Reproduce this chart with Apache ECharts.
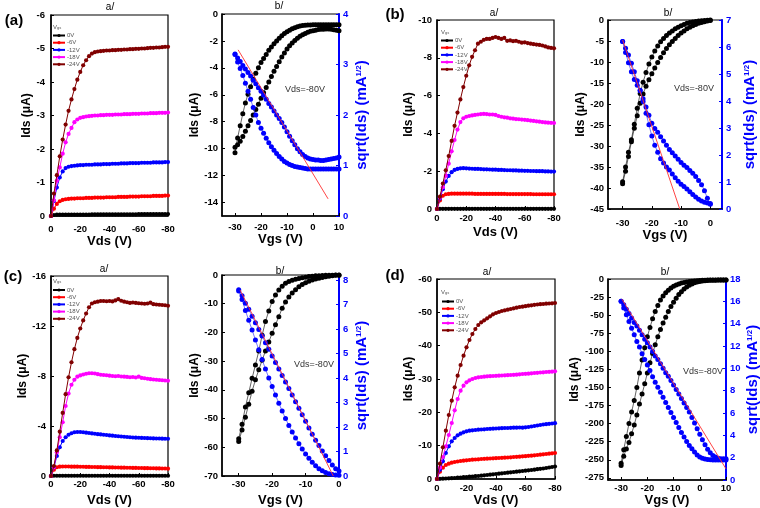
<!DOCTYPE html>
<html><head><meta charset="utf-8">
<script src="https://cdn.jsdelivr.net/npm/echarts@6/dist/echarts.min.js"></script>
<style>html,body{margin:0;padding:0;background:#fff}#c{width:760px;height:508px}</style>
</head><body><div id="c"></div>
<script>
// ---------- x values ----------
const vds = [0,-2,-4,-6,-8,-10,-12,-14,-16,-18,
  -20,-22,-24,-26,-28,-30,-32,-34,-36,-38,
  -40,-42,-44,-46,-48,-50,-52,-54,-56,-58,
  -60,-62,-64,-66,-68,-70,-72,-74,-76,-78,-80];
const vgsTo10 = [-30,-29,-28,-27,-26,-25,-24,-23,-22,-21,
  -20,-19,-18,-17,-16,-15,-14,-13,-12,-11,
  -10,-9,-8,-7,-6,-5,-4,-3,-2,-1,
  0,1,2,3,4,5,6,7,8,9,10];
const vgsTo0 = [-30,-29,-28,-27,-26,-25,-24,-23,-22,-21,
  -20,-19,-18,-17,-16,-15,-14,-13,-12,-11,
  -10,-9,-8,-7,-6,-5,-4,-3,-2,-1,0];
const vgsNames = ['0V','-6V','-12V','-18V','-24V'];

// ---------- (a) output ----------
const a_0V = [0,-0.03,-0.04,-0.04,-0.04,-0.04,-0.04,-0.04,-0.04,-0.04,
  -0.04,-0.04,-0.04,-0.04,-0.05,-0.05,-0.05,-0.05,-0.05,-0.05,
  -0.05,-0.05,-0.05,-0.05,-0.05,-0.05,-0.05,-0.05,-0.05,-0.05,
  -0.06,-0.06,-0.06,-0.06,-0.06,-0.06,-0.06,-0.06,-0.06,-0.06,-0.06];
const a_6V = [0,-0.22,-0.36,-0.44,-0.48,-0.50,-0.51,-0.52,-0.52,-0.53,
  -0.53,-0.53,-0.54,-0.54,-0.54,-0.55,-0.55,-0.55,-0.55,-0.56,
  -0.56,-0.56,-0.56,-0.57,-0.57,-0.57,-0.57,-0.58,-0.58,-0.58,
  -0.58,-0.59,-0.59,-0.59,-0.59,-0.60,-0.60,-0.60,-0.60,-0.61,-0.61];
const a_12V = [0,-0.45,-0.85,-1.15,-1.33,-1.43,-1.47,-1.49,-1.50,-1.51,
  -1.52,-1.52,-1.53,-1.53,-1.53,-1.54,-1.54,-1.54,-1.55,-1.55,
  -1.55,-1.56,-1.56,-1.56,-1.57,-1.57,-1.57,-1.58,-1.58,-1.58,
  -1.58,-1.59,-1.59,-1.59,-1.59,-1.60,-1.60,-1.60,-1.60,-1.61,-1.61];
const a_18V = [0,-0.47,-1.05,-1.45,-1.86,-2.20,-2.45,-2.63,-2.80,-2.88,
  -2.93,-2.95,-2.97,-2.98,-2.99,-3.00,-3.00,-3.01,-3.01,-3.02,
  -3.02,-3.02,-3.03,-3.03,-3.03,-3.04,-3.04,-3.04,-3.05,-3.05,
  -3.05,-3.06,-3.06,-3.06,-3.07,-3.07,-3.07,-3.08,-3.08,-3.08,-3.09];
const a_24V = [0,-0.67,-1.22,-1.78,-2.28,-2.73,-3.14,-3.48,-3.79,-4.07,
  -4.30,-4.50,-4.65,-4.77,-4.85,-4.89,-4.91,-4.92,-4.93,-4.94,
  -4.94,-4.95,-4.95,-4.96,-4.96,-4.97,-4.97,-4.98,-4.98,-4.99,
  -4.99,-5.00,-5.00,-5.01,-5.02,-5.02,-5.03,-5.03,-5.04,-5.05,-5.05];
// ---------- (a) transfer ----------
const a_idsF = [-10.3,-9.2,-8.3,-7.4,-6.6,-5.95,-5.4,-4.85,-4.4,-4.0,
  -3.6,-3.3,-3.0,-2.7,-2.45,-2.2,-2.0,-1.8,-1.62,-1.45,
  -1.32,-1.2,-1.1,-1.02,-0.95,-0.9,-0.86,-0.84,-0.82,-0.81,
  -0.8,-0.8,-0.8,-0.8,-0.8,-0.8,-0.8,-0.8,-0.8,-0.8,-0.8];
const a_idsR = [-9.9,-9.7,-9.45,-9.1,-8.7,-8.3,-7.9,-7.5,-7.1,-6.7,
  -6.25,-5.85,-5.45,-5.05,-4.65,-4.25,-3.9,-3.55,-3.2,-2.9,
  -2.6,-2.35,-2.15,-1.97,-1.8,-1.66,-1.54,-1.44,-1.36,-1.29,
  -1.24,-1.2,-1.16,-1.14,-1.13,-1.12,-1.12,-1.14,-1.17,-1.21,-1.25];
const a_sqrtF = [3.21,3.05,2.92,2.78,2.63,2.47,2.31,2.15,2.0,1.85,
  1.74,1.64,1.54,1.45,1.37,1.3,1.24,1.18,1.13,1.08,
  1.05,1.02,1.0,0.98,0.97,0.96,0.95,0.94,0.93,0.93,
  0.93,0.93,0.93,0.93,0.93,0.93,0.93,0.93,0.93,0.93,0.93];
const a_sqrtR = [3.2,3.13,3.06,2.98,2.91,2.84,2.77,2.69,2.62,2.54,
  2.47,2.39,2.31,2.23,2.16,2.08,2.0,1.93,1.85,1.76,
  1.67,1.58,1.49,1.41,1.33,1.27,1.22,1.18,1.15,1.13,
  1.12,1.11,1.11,1.1,1.1,1.11,1.12,1.13,1.14,1.15,1.17];
const a_fitX = [-28.8, 5.8];
const a_fitY = [3.29, 0.34];

// ---------- (b) output ----------
const b_0V = [0,-0.01,-0.01,-0.01,-0.01,-0.01,-0.01,-0.01,-0.01,-0.01,
  -0.01,-0.01,-0.01,-0.01,-0.01,-0.01,-0.01,-0.01,-0.01,-0.01,
  -0.01,-0.01,-0.01,-0.01,-0.01,-0.01,-0.01,-0.01,-0.01,-0.01,
  -0.01,-0.01,-0.01,-0.01,-0.01,-0.01,-0.01,-0.01,-0.01,-0.01,-0.01];
const b_6V = [0,-0.45,-0.70,-0.78,-0.80,-0.81,-0.81,-0.81,-0.81,-0.81,
  -0.81,-0.81,-0.81,-0.80,-0.80,-0.80,-0.80,-0.80,-0.80,-0.80,
  -0.80,-0.80,-0.80,-0.80,-0.79,-0.79,-0.79,-0.79,-0.79,-0.79,
  -0.79,-0.79,-0.79,-0.78,-0.78,-0.78,-0.78,-0.78,-0.78,-0.78,-0.78];
const b_12V = [0,-0.55,-1.05,-1.45,-1.75,-1.95,-2.07,-2.12,-2.15,-2.16,
  -2.15,-2.14,-2.13,-2.12,-2.12,-2.11,-2.10,-2.10,-2.09,-2.08,
  -2.08,-2.07,-2.07,-2.06,-2.05,-2.05,-2.04,-2.04,-2.03,-2.03,
  -2.02,-2.02,-2.01,-2.01,-2.00,-2.00,-2.00,-1.99,-1.99,-1.98,-1.98];
const b_18V = [0,-0.60,-1.15,-1.75,-2.40,-3.05,-3.65,-4.20,-4.60,-4.80,
  -4.88,-4.92,-4.95,-4.98,-5.00,-5.02,-5.03,-5.02,-5.00,-5.00,
  -4.98,-4.92,-4.88,-4.85,-4.83,-4.80,-4.78,-4.76,-4.75,-4.73,
  -4.72,-4.70,-4.68,-4.66,-4.64,-4.62,-4.60,-4.58,-4.57,-4.56,-4.55];
const b_24V = [0,-0.65,-1.35,-2.05,-2.80,-3.60,-4.40,-5.10,-5.80,-6.45,
  -7.05,-7.60,-8.05,-8.40,-8.75,-8.85,-8.95,-9.00,-9.00,-9.05,
  -9.10,-9.05,-9.00,-9.05,-8.90,-8.92,-8.88,-8.90,-8.85,-8.80,
  -8.82,-8.78,-8.75,-8.72,-8.70,-8.68,-8.65,-8.60,-8.55,-8.52,-8.50];
// ---------- (b) transfer ----------
const b_idsF = [-38.5,-35.0,-31.5,-28.5,-24.8,-21.0,-17.5,-14.8,-12.5,-10.5,
  -8.8,-7.4,-6.2,-5.2,-4.4,-3.7,-3.1,-2.6,-2.1,-1.7,
  -1.35,-1.05,-0.8,-0.6,-0.45,-0.33,-0.23,-0.15,-0.1,-0.05,-0.02];
const b_idsR = [-39.0,-36.0,-32.5,-29.0,-25.8,-22.8,-19.8,-17.6,-15.8,-14.2,
  -12.8,-11.4,-10.1,-8.9,-7.8,-6.8,-5.9,-5.1,-4.4,-3.7,
  -3.1,-2.6,-2.1,-1.7,-1.35,-1.05,-0.8,-0.58,-0.4,-0.25,-0.12];
const b_sqrtF = [6.2,5.95,5.7,5.4,5.08,4.75,4.4,3.98,3.55,3.12,
  2.7,2.36,2.1,1.86,1.7,1.56,1.44,1.3,1.16,1.03,
  0.92,0.83,0.74,0.64,0.54,0.44,0.36,0.3,0.25,0.22,0.2];
const b_sqrtR = [6.2,5.8,5.42,5.08,4.8,4.58,4.38,4.08,3.78,3.47,
  3.18,2.98,2.84,2.68,2.52,2.36,2.2,2.08,1.96,1.84,
  1.72,1.62,1.54,1.43,1.32,1.2,1.06,0.9,0.68,0.4,0.18];
const b_fitX = [-30, -10.45];
const b_fitY = [6.26, 0];

// ---------- (c) output ----------
const c_0V = [0,-0.02,-0.02,-0.02,-0.02,-0.02,-0.02,-0.02,-0.02,-0.02,
  -0.02,-0.02,-0.02,-0.02,-0.02,-0.02,-0.02,-0.02,-0.02,-0.02,
  -0.02,-0.02,-0.02,-0.02,-0.02,-0.02,-0.02,-0.02,-0.02,-0.02,
  -0.02,-0.02,-0.02,-0.02,-0.02,-0.02,-0.02,-0.02,-0.02,-0.02,-0.02];
const c_6V = [0,-0.50,-0.70,-0.75,-0.76,-0.76,-0.76,-0.75,-0.75,-0.75,
  -0.74,-0.74,-0.73,-0.73,-0.72,-0.72,-0.71,-0.71,-0.70,-0.70,
  -0.69,-0.69,-0.68,-0.68,-0.67,-0.67,-0.66,-0.66,-0.65,-0.65,
  -0.64,-0.64,-0.63,-0.63,-0.62,-0.62,-0.61,-0.61,-0.60,-0.60,-0.59];
const c_12V = [0,-0.70,-1.60,-2.30,-2.80,-3.10,-3.30,-3.42,-3.50,-3.52,
  -3.52,-3.50,-3.47,-3.44,-3.41,-3.38,-3.35,-3.33,-3.30,-3.28,
  -3.25,-3.23,-3.20,-3.18,-3.16,-3.14,-3.12,-3.10,-3.08,-3.07,
  -3.06,-3.05,-3.04,-3.03,-3.02,-3.01,-3.00,-3.00,-2.99,-2.98,-2.98];
const c_18V = [0,-0.70,-1.90,-3.10,-4.30,-5.60,-6.60,-7.30,-7.70,-7.95,
  -8.05,-8.12,-8.18,-8.22,-8.22,-8.20,-8.15,-8.10,-8.08,-8.06,
  -8.03,-8.00,-7.98,-8.00,-7.96,-7.95,-7.93,-7.90,-7.92,-7.88,
  -7.95,-7.85,-7.82,-7.78,-7.75,-7.72,-7.70,-7.68,-7.66,-7.64,-7.62];
const c_24V = [0,-0.80,-2.05,-3.55,-5.05,-6.55,-7.90,-9.10,-10.15,-11.05,
  -11.80,-12.45,-13.00,-13.50,-13.80,-13.90,-13.95,-14.00,-14.00,-13.98,
  -14.00,-13.97,-14.05,-14.15,-14.02,-13.95,-13.90,-13.85,-13.88,-13.85,
  -13.82,-13.80,-13.78,-13.80,-13.87,-13.75,-13.72,-13.70,-13.68,-13.66,-13.62];
// ---------- (c) transfer ----------
const c_idsF = [-57,-52,-46,-41,-36,-31.3,-26.5,-21,-16.2,-12.5,
  -9.2,-7.0,-5.2,-3.9,-2.9,-2.3,-1.85,-1.5,-1.2,-0.95,
  -0.75,-0.55,-0.4,-0.3,-0.22,-0.16,-0.11,-0.07,-0.05,-0.03,-0.02];
const c_idsR = [-58,-54,-49.5,-45,-40.5,-36.5,-33,-29.7,-26.5,-23.3,
  -20.3,-17.3,-14.5,-11.6,-9.4,-7.7,-6.3,-5.1,-4.1,-3.3,
  -2.7,-2.2,-1.75,-1.4,-1.1,-0.85,-0.6,-0.4,-0.25,-0.13,-0.06];
const c_sqrtF = [7.55,7.2,6.75,6.35,5.96,5.55,5.15,4.75,4.37,4.0,
  3.65,3.3,2.97,2.65,2.35,2.06,1.8,1.55,1.32,1.1,
  0.9,0.72,0.56,0.42,0.3,0.21,0.14,0.09,0.06,0.04,0.03];
const c_sqrtR = [7.6,7.35,7.05,6.8,6.52,6.25,5.98,5.71,5.44,5.17,
  4.9,4.63,4.37,4.1,3.83,3.57,3.3,3.03,2.76,2.5,
  2.23,1.96,1.7,1.46,1.24,1.02,0.83,0.63,0.45,0.3,0.2];
const c_fitX = [-29.6, -1.7];
const c_fitY = [7.59, 0];

// ---------- (d) output ----------
const d_0V = [0,-0.05,-0.10,-0.15,-0.20,-0.25,-0.30,-0.40,-0.45,-0.55,
  -0.60,-0.70,-0.75,-0.85,-0.90,-1.00,-1.10,-1.20,-1.30,-1.40,
  -1.50,-1.60,-1.70,-1.80,-1.90,-2.00,-2.10,-2.20,-2.30,-2.40,
  -2.50,-2.60,-2.70,-2.80,-2.95,-3.05,-3.15,-3.30,-3.45,-3.60,-3.75];
const d_6V = [0,-2.2,-3.4,-4.2,-4.6,-4.9,-5.1,-5.25,-5.4,-5.5,
  -5.6,-5.7,-5.8,-5.85,-5.9,-6.0,-6.05,-6.1,-6.15,-6.2,
  -6.25,-6.3,-6.35,-6.4,-6.45,-6.5,-6.6,-6.65,-6.7,-6.8,
  -6.85,-6.95,-7.0,-7.1,-7.2,-7.3,-7.4,-7.5,-7.6,-7.7,-7.8];
const d_12V = [0,-2.8,-5.3,-7.8,-9.8,-11.3,-12.3,-13.1,-13.6,-14.0,
  -14.3,-14.5,-14.6,-14.7,-14.8,-14.85,-14.9,-15.0,-15.05,-15.1,
  -15.15,-15.2,-15.25,-15.3,-15.3,-15.35,-15.4,-15.4,-15.45,-15.4,
  -15.5,-15.6,-15.75,-15.9,-16.05,-16.2,-16.35,-16.45,-16.55,-16.65,-16.75];
const d_18V = [0,-3.4,-6.6,-9.8,-13.2,-16.8,-20.6,-24.0,-26.5,-28.0,
  -29.0,-29.6,-30.0,-30.3,-30.5,-30.6,-30.7,-30.8,-30.85,-30.9,
  -30.95,-31.0,-31.05,-31.1,-31.15,-31.2,-31.25,-31.3,-31.4,-31.5,
  -31.55,-31.6,-31.7,-31.8,-31.85,-31.95,-32.0,-32.1,-32.15,-32.2,-32.3];
const d_24V = [0,-4.6,-9.5,-14.5,-19.2,-23.5,-27.5,-31.0,-34.2,-37.0,
  -39.5,-41.7,-43.5,-45.0,-46.2,-47.0,-47.6,-48.2,-48.8,-49.4,
  -49.8,-50.1,-50.4,-50.6,-50.8,-51.0,-51.2,-51.4,-51.6,-51.7,
  -51.85,-52.0,-52.1,-52.25,-52.35,-52.45,-52.5,-52.6,-52.65,-52.7,-52.8];
// ---------- (d) transfer ----------
const d_idsF = [-255,-236,-218,-200,-184,-168,-150,-130,-112,-95,
  -80,-67,-55,-45,-36.5,-29,-23.5,-19,-15.5,-12.5,
  -10.2,-8.4,-6.9,-5.7,-4.8,-4.1,-3.5,-3.0,-2.6,-2.3,
  -2.0,-1.8,-1.6,-1.5,-1.45,-1.4,-1.4,-1.4,-1.4,-1.4,-1.4];
const d_idsR = [-258,-245,-235,-226,-214,-202,-188,-173,-159,-145,
  -130,-116,-103,-91,-80,-70,-61,-53,-45,-38,
  -32,-26.5,-21.5,-17.5,-14,-11,-8.6,-6.8,-5.3,-4.2,
  -3.4,-2.8,-2.4,-2.1,-1.9,-1.75,-1.65,-1.55,-1.5,-1.45,-1.4];
const d_sqrtF = [16.0,15.4,14.8,14.2,13.6,13.0,12.4,11.9,11.3,10.8,
  10.3,9.8,9.25,8.75,8.3,7.85,7.4,6.95,6.5,6.05,
  5.6,5.15,4.7,4.25,3.85,3.45,3.1,2.8,2.5,2.25,
  2.05,1.95,1.88,1.84,1.82,1.8,1.8,1.8,1.8,1.8,1.8];
const d_sqrtR = [16.0,15.7,15.3,14.9,14.5,14.1,13.8,13.4,13.0,12.6,
  12.3,11.9,11.5,11.1,10.8,10.4,10.0,9.6,9.3,8.9,
  8.5,8.1,7.7,7.3,6.9,6.5,6.1,5.6,5.1,4.6,
  4.1,3.6,3.15,2.75,2.45,2.2,2.05,1.95,1.9,1.9,1.9];
const d_fitX = [-29.7, 10];
const d_fitY = [16.2, 1.0];

// ---------- tick labels ----------
const ticksVgs10 = [-30,-20,-10,0,10];
const ticksVgs0 = [-30,-20,-10,0];
const ticksA_left = [0,-2,-4,-6,-8,-10,-12,-14];
const ticksC_right = [0,1,2,3,4,5,6,7,8];
const ticksD_left = [0,-25,-50,-75,-100,-125,-150,-175,-200,-225,-250,-275];

// ================= build =================
const FONT = '"Liberation Sans", Arial, sans-serif';
const COLORS = ['#000000','#ff0000','#0000ff','#ff00ff','#800000'];
const BLUE = '#0000ff';
const zip = (xs, ys) => xs.map((x, i) => [x, ys[i]]);

const grids = [
  {left:51, top:15, width:117, height:201},
  {left:222, top:14, width:117, height:202},
  {left:437, top:20, width:117, height:189},
  {left:608, top:20, width:114, height:189},
  {left:51, top:276, width:117, height:200},
  {left:222, top:275, width:117, height:201},
  {left:437, top:279, width:118, height:200},
  {left:608, top:279, width:118, height:201}
].map(g => Object.assign(g, {show:true, borderColor:'#000', borderWidth:1.2, backgroundColor:'transparent', containLabel:false, outerBoundsMode:'none'}));

const xAxes = [], yAxes = [], series = [];

function xAxis(gi, name, opt) {
  const ax = {
    type:'value', gridIndex:gi, name, nameLocation:'middle', nameGap:opt.nameGap,
    nameTextStyle:{fontFamily:FONT, fontWeight:'bold', fontSize:13, color:'#000'},
    axisLine:{show:true, onZero:false, lineStyle:{color:'#000', width:1.5}},
    axisTick:{show:true, inside:true, length:3, lineStyle:{color:'#000', width:1}},
    axisLabel:{margin:opt.margin, fontFamily:FONT, fontWeight:'bold', fontSize:9.5, color:'#000'},
    splitLine:{show:false}, min:opt.min, max:opt.max
  };
  if (opt.interval) ax.interval = opt.interval;
  if (opt.inverse) ax.inverse = true;
  if (opt.custom) { ax.axisLabel.customValues = opt.custom; ax.axisTick.customValues = opt.custom; }
  xAxes.push(ax);
}
function yAxis(gi, opt) {
  const right = opt.position === 'right';
  const col = right ? BLUE : '#000';
  const ax = {
    type:'value', gridIndex:gi, position: right ? 'right' : 'left',
    name: opt.name, nameLocation:'middle', nameGap:opt.nameGap, nameRotate:90,
    nameTextStyle: right
      ? {fontFamily:FONT, fontWeight:'bold', fontSize:15, color:BLUE,
         rich:{sup:{fontFamily:FONT, fontWeight:'bold', fontSize:8, color:BLUE, verticalAlign:'top', lineHeight:8}}}
      : {fontFamily:FONT, fontWeight:'bold', fontSize:12, color:'#000'},
    axisLine:{show:true, onZero:false, lineStyle:{color:col, width: right ? 2 : 1.5}},
    axisTick:{show:true, inside:true, length:3, lineStyle:{color:col, width:1}},
    axisLabel:{margin:opt.margin, fontFamily:FONT, fontWeight:'bold', fontSize:9.5, color:col},
    splitLine:{show:false}, min:opt.min, max:opt.max
  };
  if (opt.interval) ax.interval = opt.interval;
  if (opt.inverse) ax.inverse = true;
  if (opt.custom) { ax.axisLabel.customValues = opt.custom; ax.axisTick.customValues = opt.custom; }
  yAxes.push(ax);
  return yAxes.length - 1;
}

function outputSeries(gi, yi, arrs) {
  arrs.forEach((arr, k) => {
    series.push({
      name: vgsNames[k], type:'line', xAxisIndex:gi, yAxisIndex:yi,
      data: zip(vds, arr), symbol:'circle', symbolSize:4.2, showSymbol:true,
      lineStyle:{width:1, color:COLORS[k]}, itemStyle:{color:COLORS[k]},
      animation:false, silent:true, z:2 + k
    });
  });
}
function transferSeries(gi, yl, yr, xs, idsF, idsR, sqF, sqR, fx, fy, tag) {
  [idsF, idsR].forEach((arr, k) => series.push({
    name: tag + '_ids' + k, type:'line', xAxisIndex:gi, yAxisIndex:yl,
    data: zip(xs, arr), symbol:'circle', symbolSize:5,
    lineStyle:{width:0.7, color:'#222'}, itemStyle:{color:'#000'},
    animation:false, silent:true, z:2
  }));
  [sqF, sqR].forEach((arr, k) => series.push({
    name: tag + '_sqrt' + k, type:'line', xAxisIndex:gi, yAxisIndex:yr,
    data: zip(xs, arr), symbol:'circle', symbolSize:5,
    lineStyle:{width:0.7, color:'#3a3aff'}, itemStyle:{color:BLUE},
    animation:false, silent:true, z:3
  }));
  series.push({
    name: tag + '_fit', type:'line', xAxisIndex:gi, yAxisIndex:yr,
    data: zip(fx, fy), symbol:'none', lineStyle:{width:0.9, color:'#ff3030'},
    animation:false, silent:true, z:4
  });
}

const IDS = 'Ids (\u03bcA)';
const SQ = 'sqrt(Ids) (mA{sup|1/2})';

// (a)
xAxis(0, 'Vds (V)', {min:-80, max:0, interval:20, inverse:true, margin:8, nameGap:14.5});
let y = yAxis(0, {name:IDS, min:-6, max:0, interval:1, inverse:true, margin:6, nameGap:12.5});
outputSeries(0, y, [a_0V, a_6V, a_12V, a_18V, a_24V]);
xAxis(1, 'Vgs (V)', {min:-35, max:10, custom:ticksVgs10, margin:6.5, nameGap:14.5});
let yl = yAxis(1, {name:IDS, min:-15, max:0, custom:ticksA_left, margin:4, nameGap:19});
let yr = yAxis(1, {name:SQ, position:'right', min:0, max:4, interval:1, margin:4, nameGap:15.5});
transferSeries(1, yl, yr, vgsTo10, a_idsF, a_idsR, a_sqrtF, a_sqrtR, a_fitX, a_fitY, 'a');

// (b)
xAxis(2, 'Vds (V)', {min:-80, max:0, interval:20, inverse:true, margin:4.5, nameGap:16.5});
y = yAxis(2, {name:IDS, min:-10, max:0, interval:2, inverse:true, margin:5, nameGap:18.5});
outputSeries(2, y, [b_0V, b_6V, b_12V, b_18V, b_24V]);
xAxis(3, 'Vgs (V)', {min:-35, max:4, custom:ticksVgs0, margin:9, nameGap:17});
yl = yAxis(3, {name:IDS, min:-45, max:0, interval:5, margin:4, nameGap:18});
yr = yAxis(3, {name:SQ, position:'right', min:0, max:7, interval:1, margin:4, nameGap:20.5});
transferSeries(3, yl, yr, vgsTo0, b_idsF, b_idsR, b_sqrtF, b_sqrtR, b_fitX, b_fitY, 'b');

// (c)
xAxis(4, 'Vds (V)', {min:-80, max:0, interval:20, inverse:true, margin:3, nameGap:17.5});
y = yAxis(4, {name:IDS, min:-16, max:0, interval:4, inverse:true, margin:5, nameGap:15});
outputSeries(4, y, [c_0V, c_6V, c_12V, c_18V, c_24V]);
xAxis(5, 'Vgs (V)', {min:-35, max:0, custom:ticksVgs0, margin:3, nameGap:17.5});
yl = yAxis(5, {name:IDS, min:-70, max:0, interval:10, margin:4, nameGap:19});
yr = yAxis(5, {name:SQ, position:'right', min:0, max:8.2, custom:ticksC_right, margin:4, nameGap:15.5});
transferSeries(5, yl, yr, vgsTo0, c_idsF, c_idsR, c_sqrtF, c_sqrtR, c_fitX, c_fitY, 'c');

// (d)
xAxis(6, 'Vds (V)', {min:-80, max:0, interval:20, inverse:true, margin:4.5, nameGap:13.5});
y = yAxis(6, {name:IDS, min:-60, max:0, interval:10, inverse:true, margin:5, nameGap:18});
outputSeries(6, y, [d_0V, d_6V, d_12V, d_18V, d_24V]);
xAxis(7, 'Vgs (V)', {min:-35, max:10, custom:ticksVgs10, margin:3.5, nameGap:11.5});
yl = yAxis(7, {name:IDS, min:-278, max:0, custom:ticksD_left, margin:4, nameGap:17});
yr = yAxis(7, {name:SQ, position:'right', min:0, max:18, interval:2, margin:4, nameGap:19.5});
transferSeries(7, yl, yr, vgsTo10, d_idsF, d_idsR, d_sqrtF, d_sqrtR, d_fitX, d_fitY, 'd');

// legends
function legend(left, top) {
  return {
    data: vgsNames, orient:'vertical', left, top, padding:0,
    itemWidth:12, itemHeight:4, itemGap:1.2, selectedMode:false,
    textStyle:{fontFamily:FONT, fontSize:6, color:'#555', lineHeight:6, padding:[0,0,0,-3]}
  };
}
const legends = [legend(52, 32.5), legend(440, 37.5), legend(52, 287), legend(441, 298.5)];

// texts
function txt(x, y, text, font, fill, align) {
  return {type:'text', x, y, silent:true, style:{text, font, fill: fill || '#000', align: align || 'center', verticalAlign:'middle'}};
}
function vgsLbl(x, y) {
  return {type:'text', x, y, silent:true, style:{text:'V{s|gs}', fontFamily:FONT, fontSize:6, fill:'#555', align:'left', verticalAlign:'middle',
    rich:{s:{fontFamily:FONT, fontSize:4, fill:'#555', verticalAlign:'bottom'}}}};
}
const PL = 'bold 15px ' + FONT;
const TT = '10px ' + FONT;
const VD = '9px ' + FONT;
const graphics = [
  txt(14, 21, '(a)', PL), txt(395, 15, '(b)', PL), txt(13, 277, '(c)', PL), txt(395, 276, '(d)', PL),
  txt(110, 7, 'a/', TT), txt(279, 6, 'b/', TT), txt(494, 13, 'a/', TT), txt(668, 13, 'b/', TT),
  txt(104, 269, 'a/', TT), txt(280, 271, 'b/', TT), txt(487, 272, 'a/', TT), txt(665, 272, 'b/', TT),
  txt(305, 90, 'Vds=-80V', VD, '#333'), txt(694, 89, 'Vds=-80V', VD, '#333'),
  txt(314, 365, 'Vds=-80V', VD, '#333'), txt(703, 372, 'Vds=-80V', VD, '#333'),
  vgsLbl(53, 27), vgsLbl(441, 32), vgsLbl(53, 281), vgsLbl(441, 292)
];

const chart = echarts.init(document.getElementById('c'), null, {renderer:'canvas'});
chart.setOption({
  animation:false, backgroundColor:'#fff',
  grid: grids, xAxis: xAxes, yAxis: yAxes, series, legend: legends,
  graphic: {elements: graphics}
});
</script></body></html>
